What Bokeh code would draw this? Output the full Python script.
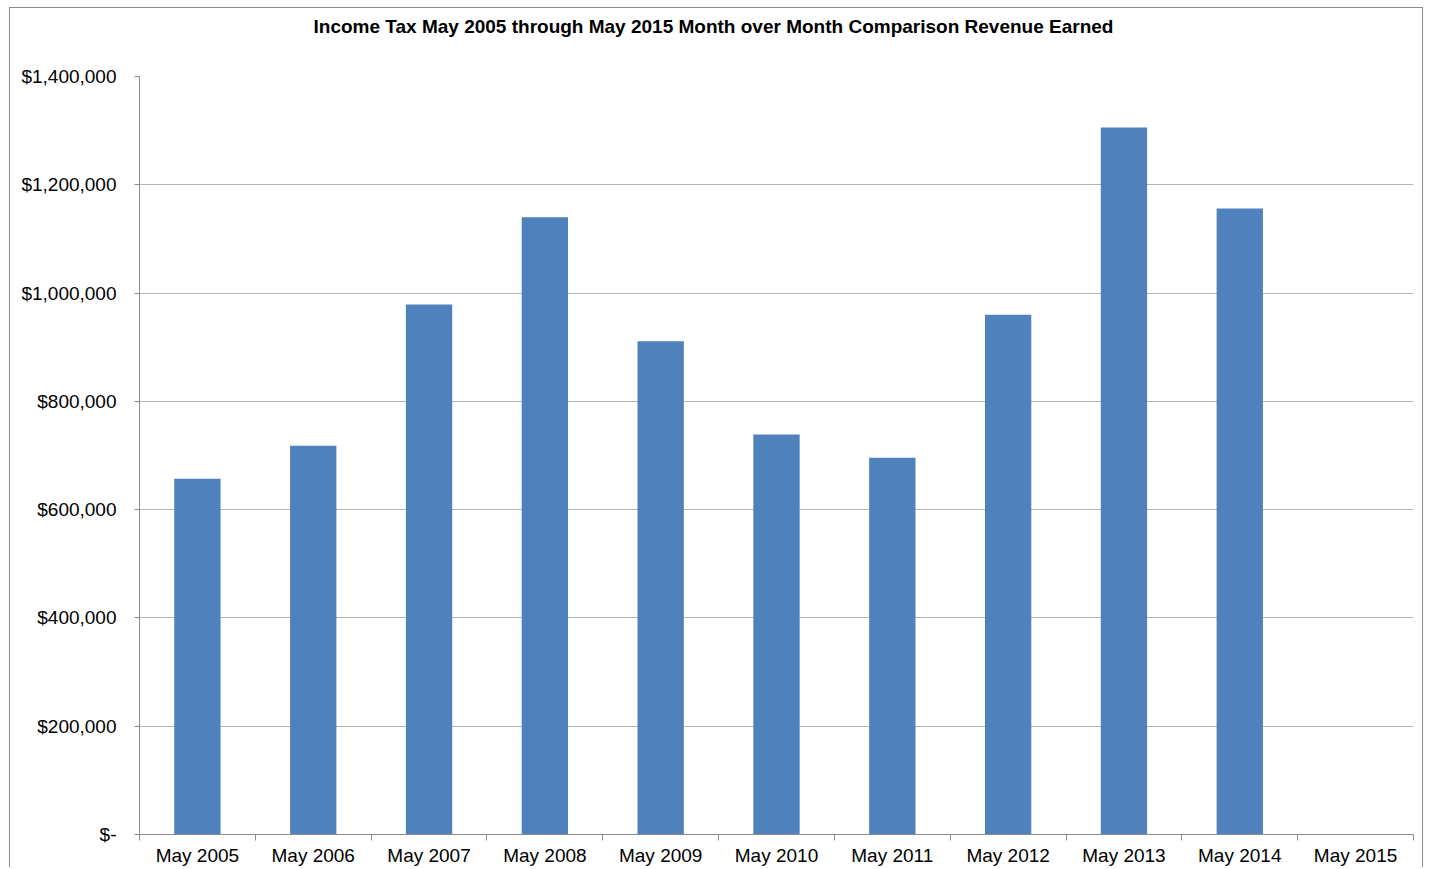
import numpy as np
from bokeh.plotting import figure
from bokeh.models import (ColumnDataSource, FixedTicker, Range1d, Title,
                          NumeralTickFormatter)
from bokeh.embed import file_html
from bokeh.resources import INLINE

months = ["May 2005", "May 2006", "May 2007", "May 2008", "May 2009", "May 2010",
          "May 2011", "May 2012", "May 2013", "May 2014", "May 2015"]
revenue = [657000, 718000, 979000, 1140000, 911000, 739000,
           696000, 960000, 1306000, 1156000, 0]
y_ticks = [0, 200000, 400000, 600000, 800000, 1000000, 1200000, 1400000]
title_text = "Income Tax May 2005 through May 2015 Month over Month Comparison Revenue Earned"

n = len(months)
xpos = np.arange(n) + 0.5
src = ColumnDataSource(dict(x=xpos, top=revenue, label=months))

p = figure(width=1414, height=860, output_backend="svg", toolbar_location=None,
           x_range=Range1d(0, n), y_range=Range1d(0, 1400000),
           min_border_left=129, min_border_right=11, min_border_top=68,
           min_border_bottom=34)
p.styles = {"margin-left": "9px", "margin-top": "7px",
            "border-top": "1px solid #8c8c8c", "border-left": "1px solid #8c8c8c",
            "border-right": "1px solid #8c8c8c"}
p.outline_line_color = None
p.background_fill_color = "white"
p.border_fill_color = "white"

p.vbar(x="x", top="top", width=0.4, bottom=0, source=src,
       fill_color="#4F81BD", line_color=None)

# spacer between title and plot area
p.add_layout(Title(text=" ", text_font_size="1px", standoff=37), "above")
p.title = Title(text=title_text, align="left", offset=174, standoff=0,
                vertical_align="bottom",
                text_font="Liberation Sans", text_font_size="19px",
                text_font_style="bold", text_color="#000000")

# x axis
xa = p.xaxis[0]
xa.ticker = FixedTicker(ticks=list(xpos), minor_ticks=list(range(n + 1)))
xa.major_label_overrides = {float(x): m for x, m in zip(xpos, months)}
xa.major_tick_out = 0
xa.major_tick_in = 0
xa.minor_tick_out = 6
xa.minor_tick_in = 0
xa.minor_tick_line_color = "#8c8c8c"
xa.axis_line_color = "#8c8c8c"
xa.major_label_standoff = 4
xa.major_label_text_font = "Liberation Sans"
xa.major_label_text_font_size = "19px"
xa.major_label_text_color = "#000000"

# y axis
ya = p.yaxis[0]
ya.ticker = FixedTicker(ticks=y_ticks, minor_ticks=[])
ya.formatter = NumeralTickFormatter(format="$0,0")
ya.major_label_overrides = {0: "$-"}
ya.major_tick_out = 5
ya.major_tick_in = 0
ya.major_tick_line_color = "#8c8c8c"
ya.axis_line_color = "#8c8c8c"
ya.major_label_standoff = 18
ya.major_label_text_font = "Liberation Sans"
ya.major_label_text_font_size = "19px"
ya.major_label_text_color = "#000000"

p.xgrid.grid_line_color = None
p.ygrid.grid_line_color = "#b4b4b4"
p.ygrid.grid_line_width = 1

open("out.html", "w").write(file_html(p, INLINE))
